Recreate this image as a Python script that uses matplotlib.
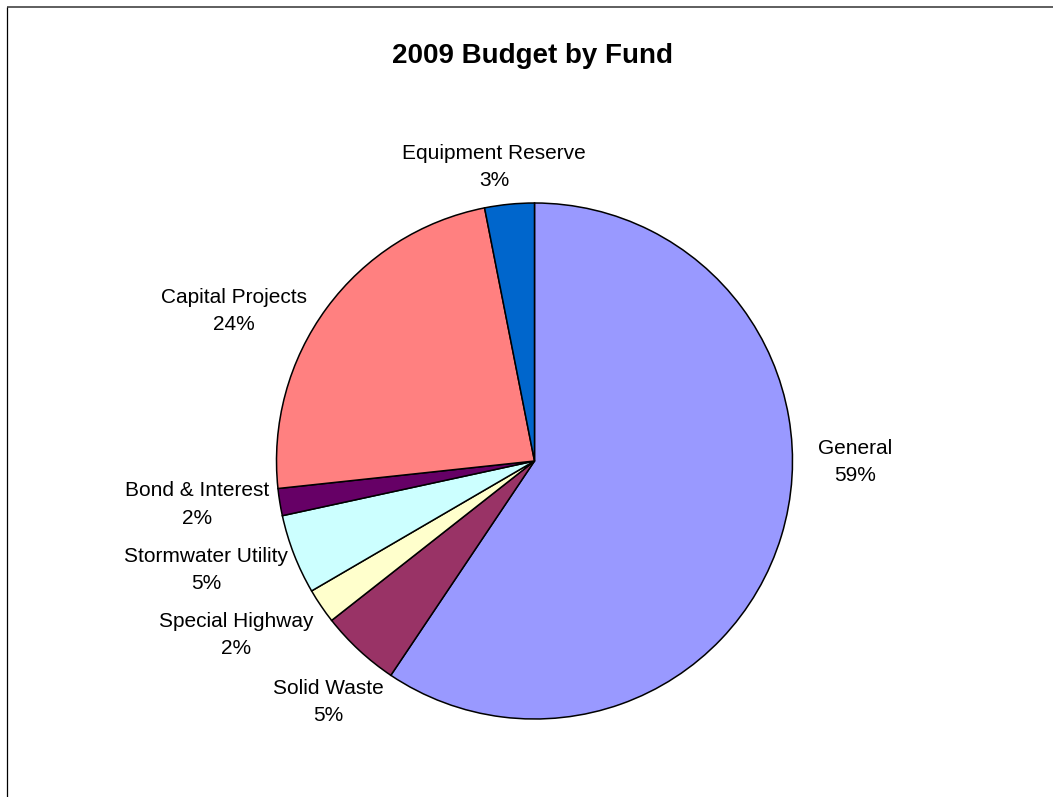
import matplotlib
matplotlib.use("Agg")
import matplotlib.pyplot as plt

plt.rcParams["font.family"] = ["Liberation Sans", "DejaVu Sans"]

# Budget shares by fund (percent of total), drawn clockwise from 12 o'clock
funds = ["General", "Solid Waste", "Special Highway", "Stormwater Utility",
         "Bond & Interest", "Capital Projects", "Equipment Reserve"]
shares = [59.4, 5.0, 2.2, 5.0, 1.7, 23.6, 3.1]
colors = ["#9999FF", "#993366", "#FFFFCC", "#CCFFFF",
          "#660066", "#FF8080", "#0066CC"]

title = "2009 Budget by Fund"

# Figure laid out in pixel units (y measured from the top edge)
W, H = 1053, 797
pie_cx, pie_cy, pie_r = 534.5, 461, 258
# Centre of each two-line label block
label_pos = [(855, 460), (328.5, 700), (236.5, 633), (206.5, 568),
             (197, 502.5), (234, 309), (494, 165)]

fig = plt.figure(figsize=(W / 100, H / 100), dpi=100)
ax = fig.add_axes([0, 0, 1, 1])

ax.pie(shares, colors=colors, startangle=90, counterclock=False,
       radius=pie_r, center=(pie_cx, H - pie_cy),
       wedgeprops=dict(edgecolor="black", linewidth=1.1))

ax.set_xlim(0, W)
ax.set_ylim(0, H)
ax.set_aspect("equal")
ax.axis("off")

total = sum(shares)
for name, val, (lx, ly) in zip(funds, shares, label_pos):
    pct = f"{round(val / total * 100)}%"
    ax.text(lx, H - (ly - 6.25), name, ha="center", va="baseline",
            fontsize=15, color="black")
    ax.text(lx, H - (ly + 21.25), pct, ha="center", va="baseline",
            fontsize=15, color="black")

ax.text(533, H - 56, title, ha="center", va="center",
        fontsize=20, fontweight="bold", color="black")

# Chart frame edges
ax.plot([6.5, W], [H - 6.5, H - 6.5], color="#333333", lw=1.1,
        clip_on=False, solid_capstyle="butt")
ax.plot([6.5, 6.5], [H - 6.5, 0], color="black", lw=0.9,
        clip_on=False, solid_capstyle="butt")

fig.savefig("out.png", dpi=100, facecolor="white")
